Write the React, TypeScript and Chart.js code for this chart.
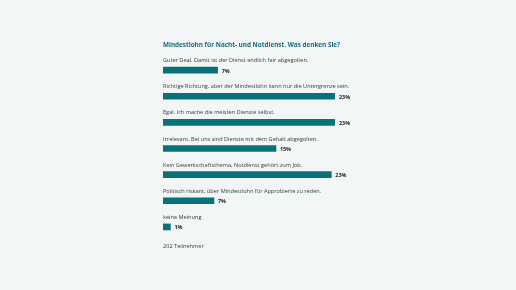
import React, { useEffect, useRef } from "react";
import { Chart, registerables } from "chart.js";

Chart.register(...registerables);

const TITLE = "Mindestlohn für Nacht- und Notdienst. Was denken Sie?";
const CATEGORIES = [
  "Guter Deal. Damit ist der Dienst endlich fair abgegolten.",
  "Richtige Richtung, aber der Mindestlohn kann nur die Untergrenze sein.",
  "Egal. Ich mache die meisten Dienste selbst.",
  "Irrelevant. Bei uns sind Dienste mit dem Gehalt abgegolten.",
  "Kein Gewerkschaftsthema, Notdienst gehört zum Job.",
  "Politisch riskant, über Mindestlohn für Approbierte zu reden.",
  "keine Meinung",
];
const PERCENTS = [7.4, 23.3, 23.3, 15.3, 22.8, 6.9, 1.0];
const FOOTER = "202 Teilnehmer";

const TEAL = "#0a7178";
const TEXT = "#3a3a3a";
const BG = "#f2f6f7";
const FONT = "'Open Sans', 'DejaVu Sans', sans-serif";

export default function App() {
  const ref = useRef<HTMLCanvasElement | null>(null);

  useEffect(() => {
    document.body.style.margin = "0";
    document.body.style.background = BG;
    const canvas = ref.current;
    if (!canvas) return;

    const textPlugin = {
      id: "pollText",
      afterDatasetsDraw(chart: any) {
        const { ctx, chartArea } = chart;
        const meta = chart.getDatasetMeta(0);
        ctx.save();
        ctx.textBaseline = "middle";
        ctx.textAlign = "left";
        // title
        ctx.fillStyle = "#1b6c78";
        ctx.font = `bold 6.35px ${FONT}`;
        ctx.fillText(TITLE, chartArea.left, chartArea.top - 12);
        meta.data.forEach((bar: any, i: number) => {
          ctx.fillStyle = TEXT;
          ctx.font = `5.6px ${FONT}`;
          ctx.fillText(CATEGORIES[i], chartArea.left, bar.y - 9.5);
          ctx.fillStyle = "#222";
          ctx.font = `bold 5.4px ${FONT}`;
          ctx.fillText(`${Math.round(PERCENTS[i])}%`, bar.x + 4, bar.y + 1);
        });
        const last = meta.data[meta.data.length - 1];
        ctx.fillStyle = TEXT;
        ctx.font = `5.6px ${FONT}`;
        ctx.fillText(FOOTER, chartArea.left, last.y + 19);
        ctx.restore();
      },
    };

    const chart = new Chart(canvas, {
      type: "bar",
      data: {
        labels: CATEGORIES,
        datasets: [
          {
            data: PERCENTS,
            backgroundColor: TEAL,
            barThickness: 6,
            borderWidth: 0,
          },
        ],
      },
      options: {
        indexAxis: "y",
        animation: false,
        responsive: false,
        maintainAspectRatio: false,
        layout: { padding: { left: 163, right: 181, top: 57, bottom: 50 } },
        scales: {
          x: { display: false, min: 0, max: 23.3 },
          y: { display: false },
        },
        plugins: {
          legend: { display: false },
          tooltip: { enabled: false },
          title: { display: false },
        },
      },
      plugins: [textPlugin],
    });
    return () => chart.destroy();
  }, []);

  return (
    <div style={{ width: 516, height: 290, background: BG }}>
      <canvas ref={ref} width={516} height={290} style={{ display: "block" }} />
    </div>
  );
}
